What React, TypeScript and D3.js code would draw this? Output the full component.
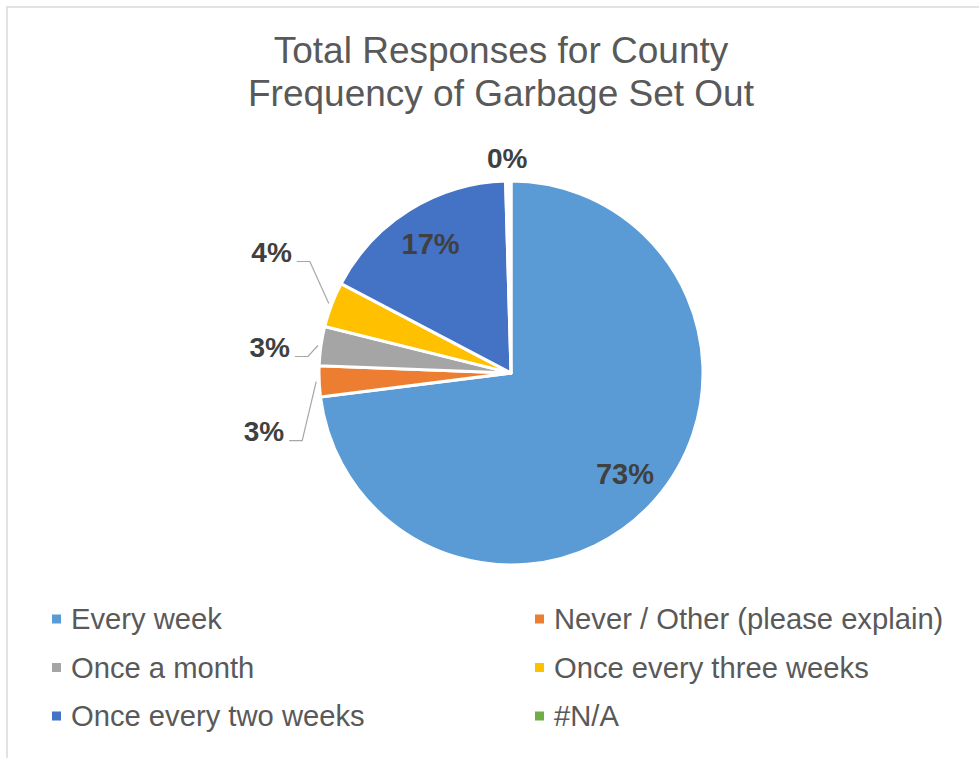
import React from "react";
import * as d3 from "d3";

const categories = [
  "Every week",
  "Never / Other (please explain)",
  "Once a month",
  "Once every three weeks",
  "Once every two weeks",
  "#N/A",
];
const values = [73.0, 2.6, 3.3, 3.8, 16.85, 0.45];
const labelTexts = ["73%", "3%", "3%", "4%", "17%", "0%"];
const colors = ["#5B9BD5", "#ED7D31", "#A5A5A5", "#FFC000", "#4472C4", "#70AD47"];
const titleLines = ["Total Responses for County", "Frequency of Garbage Set Out"];

// label placement (layout): "inside" at centroid, or outside with elbow offset from the arc edge
const labelPlacement: ({ kind: "inside" } | { kind: "leader"; ex: number; ey: number } | { kind: "above"; dy: number })[] = [
  { kind: "inside" },
  { kind: "leader", ex: -14, ey: 59 },
  { kind: "leader", ex: -10, ey: 11 },
  { kind: "leader", ex: -19, ey: -42 },
  { kind: "inside" },
  { kind: "above", dy: -20 },
];

const W = 979;
const H = 758;
const FONT = "'Liberation Sans', Arial, Helvetica, sans-serif";

export default function App() {
  const cx = 511;
  const cy = 373;
  const R = 192;

  const pie = d3.pie<number>().sort(null).value((d) => d).startAngle(0).endAngle(2 * Math.PI);
  const arcs = pie(values);
  const arc = d3.arc<d3.PieArcDatum<number>>().innerRadius(0).outerRadius(R);
  const labelArc = d3.arc<d3.PieArcDatum<number>>().innerRadius(152).outerRadius(152);
  const edgeArc = d3.arc<d3.PieArcDatum<number>>().innerRadius(195).outerRadius(195);

  const legendX = d3.scaleOrdinal<number, number>().domain([0, 1]).range([52, 535]);
  const legendY = d3.scaleLinear().domain([0, 2]).range([619, 716]);

  return (
    <svg width={W} height={H} style={{ position: "absolute", left: 0, top: 0 }} fontFamily={FONT}>
      <rect x={0} y={0} width={W} height={H} fill="#fff" />
      <rect x={7} y={7} width={1200} height={1200} fill="none" stroke="#D9D9D9" strokeWidth={1.5} />
      {titleLines.map((t, i) => (
        <text key={i} x={501} y={63 + i * 43} textAnchor="middle" fontSize={37} fill="#595959">
          {t}
        </text>
      ))}
      <g transform={`translate(${cx},${cy})`}>
        {arcs.map((a, i) => (
          <path
            key={i}
            d={arc(a) || ""}
            fill={categories[i] === "#N/A" ? "#FFFFFF" : colors[i]}
            stroke="#FFFFFF"
            strokeWidth={3}
            strokeLinejoin="round"
          />
        ))}
        {arcs.map((a, i) => {
          const p = labelPlacement[i];
          if (p.kind === "inside") {
            const [x, y] = labelArc.centroid(a);
            return (
              <text key={i} x={x} y={y} textAnchor="middle" dominantBaseline="central" fontSize={29} fontWeight="bold" fill="#404040">
                {labelTexts[i]}
              </text>
            );
          }
          const [ax, ay] = edgeArc.centroid(a);
          if (p.kind === "above") {
            return (
              <text key={i} x={ax - 1} y={ay + p.dy} textAnchor="middle" dominantBaseline="central" fontSize={28} fontWeight="bold" fill="#404040">
                {labelTexts[i]}
              </text>
            );
          }
          const exX = ax + p.ex;
          const exY = ay + p.ey;
          const hx = exX - 13;
          return (
            <g key={i}>
              <polyline points={`${ax},${ay} ${exX},${exY} ${hx},${exY}`} fill="none" stroke="#A6A6A6" strokeWidth={1.2} />
              <text x={hx - 5} y={exY} textAnchor="end" fontSize={28} fontWeight="bold" fill="#404040">
                {labelTexts[i]}
              </text>
            </g>
          );
        })}
      </g>
      {categories.map((c, i) => {
        const x = legendX(i % 2);
        const y = legendY(Math.floor(i / 2));
        return (
          <g key={c}>
            <rect x={x} y={y - 4.5} width={9} height={9} fill={colors[i]} />
            <text x={x + 19} y={y} dominantBaseline="central" fontSize={29.2} fill="#595959">
              {c}
            </text>
          </g>
        );
      })}
    </svg>
  );
}
